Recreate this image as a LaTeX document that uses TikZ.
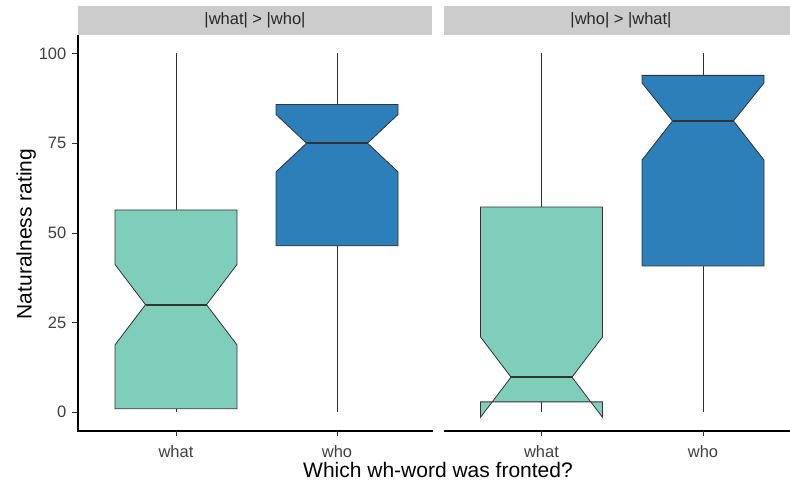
\documentclass[tikz,border=0pt]{standalone}
\usepackage{fontspec}
\setmainfont{Liberation Sans}
\usepackage{tikz}
\usetikzlibrary{calc,positioning}
\definecolor{whatfill}{HTML}{7FCDBB}
\definecolor{whofill}{HTML}{2C7FB8}
\definecolor{stripgray}{HTML}{CCCCCC}
\definecolor{linegray}{HTML}{333333}
\newdimen\hwdim
\newdimen\nwdim
\hwdim=61pt
\nwdim=30.5pt
\tikzstyle{notchbox}=[
  draw=linegray,
  line width=.8pt,
  line join=miter,
]
\tikzstyle{whisker}=[
  draw=linegray,
  line width=.8pt,
]
\tikzstyle{median}=[
  draw=linegray,
  line width=2pt,
]
\tikzstyle{axisline}=[
  draw=black,
  line width=1.1pt,
]
\tikzstyle{tick}=[
  draw=linegray,
  line width=.8pt,
]
\tikzstyle{strip}=[
  fill=stripgray,
  draw=none,
]
\tikzstyle{striplabel}=[
  font={\fontsize{16.5}{19}\selectfont},
  color=black!85,
  inner sep=0pt,
]
\tikzstyle{ticklabel}=[
  font={\fontsize{16.5}{19}\selectfont},
  color=black!75,
  inner sep=0pt,
]
\tikzstyle{axistitle}=[
  font={\fontsize{21}{24}\selectfont},
  color=black,
  inner sep=0pt,
]
\tikzset{
  x=1pt,
  y=1pt,
}
% #1 centre, #2 q1, #3 notch low, #4 median, #5 notch high, #6 q3, #7 fill
\newcommand\drawnotchbox[7]{
  \draw [notchbox, fill=#7] ($(#1,#2)-(\hwdim,0)$) -- ($(#1,#3)-(\hwdim,0)$)
  -- ($(#1,#4)-(\nwdim,0)$) -- ($(#1,#5)-(\hwdim,0)$)
  -- ($(#1,#6)-(\hwdim,0)$) -- ($(#1,#6)+(\hwdim,0)$)
  -- ($(#1,#5)+(\hwdim,0)$) -- ($(#1,#4)+(\nwdim,0)$)
  -- ($(#1,#3)+(\hwdim,0)$) -- ($(#1,#2)+(\hwdim,0)$) -- cycle;
  \draw [median] ($(#1,#4)-(\nwdim,0)$) -- ($(#1,#4)+(\nwdim,0)$);
}

\begin{document}
\begin{tikzpicture}
  \useasboundingbox (0,0) rectangle (790,491);
  %% strips
  \fill [strip] (78,456) rectangle (432,485);
  \fill [strip] (444,456) rectangle (798,485);
  \node (leftstrip) [striplabel] at (255,470.5) {|what| > |who|};
  \node (rightstrip) [striplabel] at (621,470.5) {|who| > |what|};
  %%
  \begin{scope}[yshift=78.7pt, y=3.588pt]
    % whiskers
    \draw [whisker] (176,0) -- (176,1);
    \draw [whisker] (176,56.4) -- (176,100);
    \draw [whisker] (337,0) -- (337,46.4);
    \draw [whisker] (337,85.8) -- (337,100);
    \draw [whisker] (541.5,0) -- (541.5,2.9);
    \draw [whisker] (541.5,57.2) -- (541.5,100);
    \draw [whisker] (703,0) -- (703,40.8);
    \draw [whisker] (703,93.9) -- (703,100);
    %% boxes
    \drawnotchbox{176}{1}{18.8}{30}{41.2}{56.4}{whatfill}
    \drawnotchbox{337}{46.4}{67}{75}{83}{85.8}{whofill}
    \drawnotchbox{541.5}{2.9}{-1.4}{9.8}{21}{57.2}{whatfill}
    \drawnotchbox{703}{40.8}{70.3}{81.2}{91.8}{93.9}{whofill}
    %% y ticks
    \draw [tick] (72,0) -- (78,0);
    \draw [tick] (72,25) -- (78,25);
    \draw [tick] (72,50) -- (78,50);
    \draw [tick] (72,75) -- (78,75);
    \draw [tick] (72,100) -- (78,100);
    \node (ytick0) [ticklabel, anchor=east] at (66.5,0) {0};
    \node (ytick25) [ticklabel, anchor=east] at (66.5,25) {25};
    \node (ytick50) [ticklabel, anchor=east] at (66.5,50) {50};
    \node (ytick75) [ticklabel, anchor=east] at (66.5,75) {75};
    \node (ytick100) [ticklabel, anchor=east] at (66.5,100) {100};
  \end{scope}
  %% axes
  \draw [axisline] (78,456) -- (78,60) -- (433,60);
  \draw [axisline] (444,60) -- (798,60);
  \draw [tick] (176,60) -- (176,55);
  \draw [tick] (337,60) -- (337,55);
  \draw [tick] (541.5,60) -- (541.5,55);
  \draw [tick] (703,60) -- (703,55);
  \node (xwhatleft) [ticklabel, anchor=base] at (176,33.7) {what};
  \node (xwholeft) [ticklabel, anchor=base] at (337,33.7) {who};
  \node (xwhatright) [ticklabel, anchor=base] at (541.5,33.7) {what};
  \node (xwhoright) [ticklabel, anchor=base] at (703,33.7) {who};
  %% titles
  \node (xtitle) [axistitle, anchor=base] at (438,13.7) {Which wh-word was fronted?};
  \node (ytitle) [axistitle, anchor=base, rotate=90] at (31.5,257) {Naturalness rating};
\end{tikzpicture}
\end{document}
